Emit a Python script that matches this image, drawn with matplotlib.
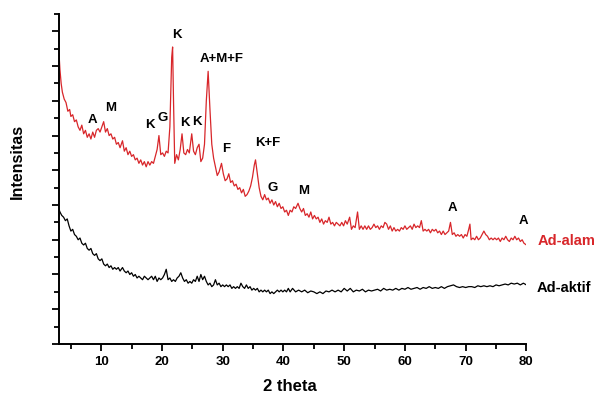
import matplotlib.pyplot as plt
from matplotlib.ticker import MultipleLocator

# (2 theta, intensity in arbitrary units)
ad_alam = [
    (3.0, 17.0), (3.2, 15.8), (3.4, 15.0), (3.6, 14.5), (3.9, 14.1), (4.2, 13.9), (4.5, 13.4),
    (4.8, 13.5), (5.0, 13.1), (5.3, 13.2), (5.6, 12.8), (5.9, 12.9), (6.2, 12.5), (6.5, 12.3),
    (6.8, 12.6), (7.1, 12.1), (7.4, 12.3), (7.7, 11.9), (8.0, 12.1), (8.3, 11.8), (8.6, 12.2),
    (8.9, 11.9), (9.2, 12.3), (9.5, 12.4), (9.8, 12.2), (10.1, 12.5), (10.4, 12.8), (10.7, 12.2),
    (11.0, 12.4), (11.3, 12.0), (11.6, 12.1), (11.9, 11.8), (12.2, 11.9), (12.5, 11.5), (12.8, 11.6),
    (13.1, 11.3), (13.5, 11.7), (13.8, 11.1), (14.1, 11.3), (14.4, 10.9), (14.7, 11.1), (15.0, 10.8),
    (15.3, 10.9), (15.6, 10.6), (15.9, 10.7), (16.2, 10.4), (16.5, 10.6), (16.8, 10.3), (17.1, 10.5),
    (17.4, 10.2), (17.7, 10.5), (18.0, 10.3), (18.3, 10.5), (18.6, 10.4), (18.9, 10.8), (19.2, 11.2),
    (19.5, 12.0), (19.8, 10.9), (20.1, 11.0), (20.4, 10.8), (20.7, 11.1), (21.0, 11.0), (21.3, 12.5),
    (21.6, 16.5), (21.75, 17.1), (21.9, 14.0), (22.1, 10.4), (22.4, 10.9), (22.7, 10.6), (23.0, 11.2),
    (23.3, 12.1), (23.6, 11.0), (23.9, 10.9), (24.2, 11.2), (24.5, 11.0), (24.9, 12.1), (25.2, 11.1),
    (25.5, 10.9), (25.8, 11.3), (26.1, 11.5), (26.4, 10.5), (26.7, 10.7), (27.0, 11.5), (27.3, 14.0),
    (27.6, 15.7), (27.9, 13.5), (28.2, 11.5), (28.5, 10.7), (28.8, 10.2), (29.1, 9.7), (29.4, 9.9),
    (29.8, 10.4), (30.1, 9.8), (30.4, 9.4), (30.7, 9.5), (31.0, 9.8), (31.3, 9.3), (31.6, 9.4),
    (31.9, 9.1), (32.2, 9.2), (32.5, 8.9), (32.8, 9.0), (33.1, 8.7), (33.4, 8.9), (33.7, 8.5),
    (34.0, 8.6), (34.3, 8.8), (34.6, 9.1), (34.9, 9.6), (35.2, 10.3), (35.4, 10.6), (35.7, 9.8),
    (36.0, 9.0), (36.3, 8.5), (36.6, 8.3), (36.9, 8.6), (37.2, 8.3), (37.5, 8.4), (37.8, 8.1),
    (38.1, 8.3), (38.4, 8.0), (38.7, 8.2), (39.0, 7.9), (39.3, 8.1), (39.6, 7.8), (39.9, 7.9),
    (40.2, 7.6), (40.5, 7.7), (40.8, 7.4), (41.1, 7.7), (41.4, 7.6), (41.7, 7.9), (42.0, 7.8),
    (42.4, 8.1), (42.7, 7.8), (43.0, 7.6), (43.3, 7.8), (43.6, 7.4), (43.9, 7.5), (44.2, 7.3),
    (44.5, 7.6), (44.8, 7.2), (45.1, 7.4), (45.4, 7.2), (45.7, 7.3), (46.0, 7.0), (46.3, 7.2),
    (46.6, 6.9), (46.9, 7.1), (47.2, 7.0), (47.5, 7.3), (47.8, 6.9), (48.1, 7.0), (48.4, 6.8),
    (48.7, 7.0), (49.0, 6.9), (49.3, 6.8), (49.6, 7.0), (49.9, 6.8), (50.2, 7.1), (50.5, 6.9),
    (50.9, 7.3), (51.2, 6.6), (51.5, 6.8), (51.8, 6.7), (52.2, 7.6), (52.5, 6.6), (52.8, 6.8),
    (53.1, 6.6), (53.4, 6.8), (53.7, 6.6), (54.0, 6.8), (54.3, 6.6), (54.6, 6.7), (54.9, 6.9),
    (55.2, 6.7), (55.5, 6.8), (55.8, 6.6), (56.1, 6.8), (56.4, 6.7), (56.7, 7.0), (57.0, 6.9),
    (57.3, 6.6), (57.6, 6.8), (57.9, 6.5), (58.2, 6.7), (58.5, 6.5), (58.8, 6.6), (59.1, 6.5),
    (59.4, 6.7), (59.7, 6.6), (60.0, 6.8), (60.3, 6.6), (60.6, 6.7), (60.9, 6.8), (61.2, 6.6),
    (61.5, 6.9), (61.8, 6.7), (62.1, 6.8), (62.4, 6.7), (62.7, 7.1), (63.0, 6.5), (63.3, 6.6),
    (63.6, 6.5), (63.9, 6.6), (64.2, 6.4), (64.5, 6.6), (64.8, 6.5), (65.1, 6.6), (65.4, 6.4),
    (65.7, 6.5), (66.0, 6.3), (66.3, 6.5), (66.6, 6.3), (66.9, 6.4), (67.2, 6.5), (67.5, 7.0),
    (67.8, 6.3), (68.1, 6.4), (68.4, 6.2), (68.7, 6.3), (69.0, 6.2), (69.3, 6.3), (69.6, 6.1),
    (69.9, 6.3), (70.2, 6.2), (70.5, 6.6), (70.7, 6.9), (70.9, 6.0), (71.2, 6.1), (71.5, 6.0),
    (71.8, 6.2), (72.1, 6.0), (72.4, 6.1), (72.7, 6.3), (73.0, 6.5), (73.3, 6.3), (73.6, 6.2),
    (73.9, 6.0), (74.2, 6.1), (74.5, 6.0), (74.8, 6.1), (75.1, 6.0), (75.4, 6.1), (75.7, 5.9),
    (76.0, 6.1), (76.3, 6.0), (76.6, 6.2), (76.9, 6.0), (77.2, 5.9), (77.5, 6.1), (77.8, 6.0),
    (78.1, 6.2), (78.4, 6.0), (78.7, 6.1), (79.0, 5.9), (79.3, 6.0), (79.6, 5.8), (80.0, 5.7),
]

ad_aktif = [
    (3.0, 7.8), (3.2, 7.6), (3.5, 7.4), (3.8, 7.3), (4.1, 7.1), (4.4, 7.2), (4.7, 6.8), (5.0, 6.5),
    (5.3, 6.6), (5.6, 6.3), (5.9, 6.2), (6.2, 6.0), (6.5, 6.1), (6.8, 5.8), (7.1, 5.7), (7.4, 5.8),
    (7.7, 5.5), (8.0, 5.4), (8.3, 5.5), (8.6, 5.2), (8.9, 5.1), (9.2, 5.2), (9.5, 4.9), (9.8, 4.8),
    (10.1, 4.9), (10.4, 4.6), (10.7, 4.5), (11.0, 4.6), (11.3, 4.4), (11.6, 4.5), (11.9, 4.3),
    (12.2, 4.4), (12.5, 4.3), (12.8, 4.4), (13.1, 4.2), (13.5, 4.4), (13.8, 4.2), (14.1, 4.1),
    (14.4, 4.2), (14.7, 4.0), (15.0, 4.1), (15.3, 3.9), (15.6, 4.0), (15.9, 3.8), (16.2, 3.9),
    (16.5, 3.8), (16.8, 3.7), (17.1, 3.9), (17.4, 3.8), (17.7, 3.7), (18.0, 3.8), (18.3, 3.9),
    (18.6, 3.7), (18.9, 3.9), (19.2, 3.6), (19.5, 3.8), (19.8, 3.7), (20.1, 3.8), (20.4, 4.0),
    (20.7, 4.3), (21.0, 3.7), (21.3, 3.8), (21.6, 3.6), (21.9, 3.7), (22.2, 3.6), (22.5, 3.8),
    (22.8, 3.9), (23.1, 4.1), (23.4, 3.8), (23.7, 3.6), (24.0, 3.7), (24.3, 3.5), (24.6, 3.6),
    (24.9, 3.5), (25.2, 3.7), (25.5, 3.6), (25.8, 3.9), (26.1, 3.6), (26.4, 4.0), (26.7, 3.7),
    (27.0, 3.9), (27.3, 3.6), (27.6, 3.4), (27.9, 3.5), (28.2, 3.3), (28.5, 3.4), (28.8, 3.7),
    (29.1, 3.4), (29.4, 3.5), (29.7, 3.3), (30.0, 3.4), (30.3, 3.3), (30.6, 3.4), (30.9, 3.3),
    (31.2, 3.4), (31.5, 3.2), (31.8, 3.3), (32.1, 3.2), (32.4, 3.3), (32.7, 3.2), (33.0, 3.5),
    (33.3, 3.3), (33.6, 3.2), (33.9, 3.4), (34.2, 3.2), (34.5, 3.3), (34.8, 3.1), (35.1, 3.2),
    (35.4, 3.1), (35.7, 3.2), (36.0, 3.0), (36.3, 3.1), (36.6, 3.0), (36.9, 3.1), (37.2, 3.0),
    (37.5, 3.1), (37.8, 2.9), (38.1, 3.0), (38.4, 2.9), (38.7, 3.0), (39.0, 3.1), (39.3, 3.0),
    (39.6, 3.1), (39.9, 3.0), (40.2, 3.1), (40.5, 3.0), (40.8, 3.2), (41.1, 3.0), (41.5, 3.2),
    (42.0, 3.0), (42.5, 3.1), (43.0, 3.0), (43.5, 3.1), (44.0, 2.95), (44.5, 3.05), (45.0, 3.0),
    (45.5, 2.9), (46.0, 3.0), (46.5, 2.9), (47.0, 3.05), (47.5, 3.0), (48.0, 3.1), (48.5, 3.0),
    (49.0, 3.1), (49.5, 3.0), (50.0, 3.2), (50.5, 3.05), (51.0, 3.2), (51.5, 3.0), (52.0, 3.1),
    (52.5, 3.05), (53.0, 3.15), (53.5, 3.0), (54.0, 3.1), (54.5, 3.05), (55.0, 3.1), (55.5, 3.15),
    (56.0, 3.05), (56.5, 3.2), (57.0, 3.1), (57.5, 3.15), (58.0, 3.1), (58.5, 3.2), (59.0, 3.1),
    (59.5, 3.2), (60.0, 3.15), (60.5, 3.25), (61.0, 3.15), (61.5, 3.2), (62.0, 3.25), (62.5, 3.15),
    (63.0, 3.25), (63.5, 3.2), (64.0, 3.3), (64.5, 3.2), (65.0, 3.25), (65.5, 3.2), (66.0, 3.3),
    (66.5, 3.2), (67.0, 3.3), (67.5, 3.35), (68.0, 3.4), (68.5, 3.3), (69.0, 3.25), (69.5, 3.3),
    (70.0, 3.25), (70.5, 3.3), (71.0, 3.3), (71.5, 3.25), (72.0, 3.35), (72.5, 3.3), (73.0, 3.35),
    (73.5, 3.3), (74.0, 3.35), (74.5, 3.3), (75.0, 3.4), (75.5, 3.35), (76.0, 3.4), (76.5, 3.45),
    (77.0, 3.4), (77.5, 3.5), (78.0, 3.45), (78.5, 3.5), (79.0, 3.4), (79.5, 3.5), (80.0, 3.4),
]

# phase labels: (text, 2 theta, intensity)
phase_labels = [
    ("A", 8.6, 12.9), ("M", 11.5, 13.6), ("K", 18.0, 12.6), ("G", 20.1, 13.0),
    ("K", 22.4, 17.8), ("K", 23.7, 12.7), ("K", 25.7, 12.8), ("A+M+F", 29.8, 16.4),
    ("F", 30.5, 11.2), ("K+F", 37.4, 11.6), ("G", 38.2, 9.0), ("M", 43.3, 8.8),
    ("A", 67.9, 7.8), ("A", 79.6, 7.1),
]

red = "#d8262a"
plt.rcParams['font.family'] = ['Liberation Sans', 'DejaVu Sans']

fig = plt.figure(figsize=(5.95, 3.94), dpi=100)
ax = fig.add_axes([0.0987, 0.127, 0.786, 0.8375])

x1, y1 = zip(*ad_alam)
x2, y2 = zip(*ad_aktif)
ax.plot(x1, y1, color=red, lw=0.9)
ax.plot(x2, y2, color="black", lw=0.9)

for txt, tx, ty in phase_labels:
    ax.text(tx, ty, txt, ha="center", va="center", fontsize=9.5, fontweight="bold")

ax.text(81.9, 5.9, "Ad-alam", color=red, ha="left", va="center",
        fontsize=10.5, fontweight="bold", clip_on=False)
ax.text(81.7, 3.2, "Ad-aktif", color="black", ha="left", va="center",
        fontsize=10.5, fontweight="bold", clip_on=False)

ax.set_xlim(3, 80)
ax.set_ylim(0, 19)
ax.xaxis.set_major_locator(MultipleLocator(10))
ax.xaxis.set_minor_locator(MultipleLocator(5))
ax.yaxis.set_major_locator(MultipleLocator(2))
ax.yaxis.set_minor_locator(MultipleLocator(1))
ax.tick_params(which="both", direction="out", width=1.3)
ax.tick_params(which="major", length=5)
ax.tick_params(which="minor", length=3.5)
ax.tick_params(axis="x", labelsize=9.5, pad=4)
ax.set_yticklabels([])
for lbl in ax.get_xticklabels():
    lbl.set_fontweight("bold")

for side in ("top", "right"):
    ax.spines[side].set_visible(False)
for side in ("left", "bottom"):
    ax.spines[side].set_linewidth(1.4)

fig.text(0.488, 0.018, "2 theta", ha="center", va="center", fontsize=12, fontweight="bold")
fig.text(0.03, 0.589, "Intensitas", ha="center", va="center", rotation=90,
         fontsize=11.5, fontweight="bold")

fig.savefig("out.png", dpi=100)
